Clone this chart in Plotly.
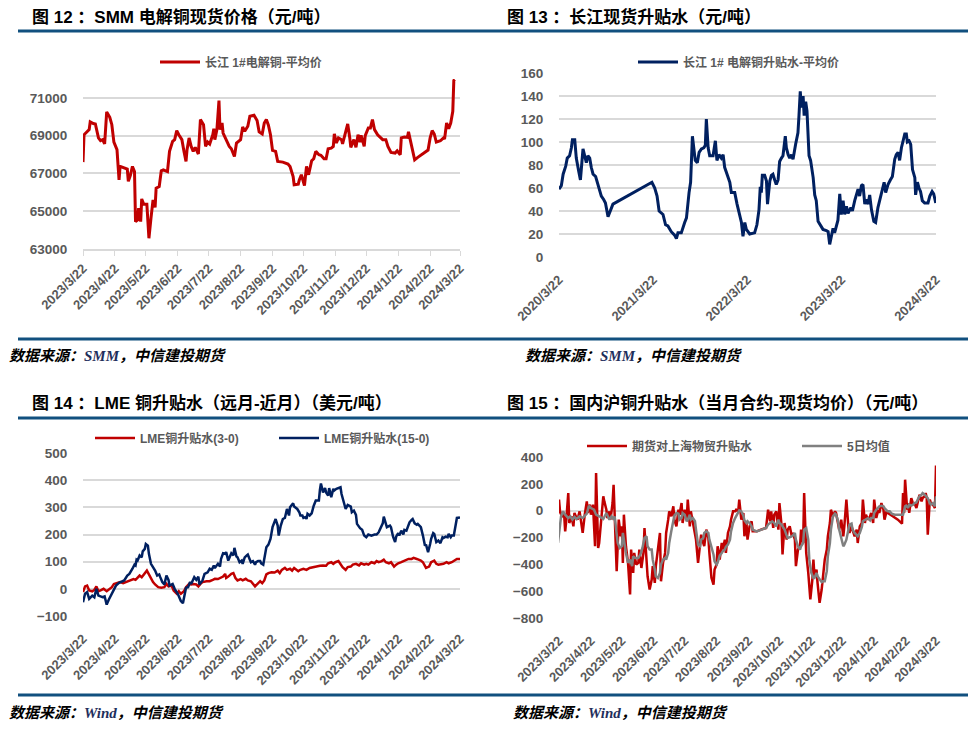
'''
Four-panel copper spread chart (SMM spot price, Changjiang premium,
LME spreads, SHFE front-month vs spot) drawn with plotly.
'''
import pandas as pd
import plotly.graph_objects as go

# the page body keeps its default 8px margin, so the figure is drawn 8px
# smaller and every layout position below is given in window pixels
PAGE_PAD = 8
W, H = 976 - PAGE_PAD, 731 - PAGE_PAD
FONT = "Liberation Sans, Noto Sans CJK SC, sans-serif"
RED = "#C00000"
NAVY = "#002060"
GREY_LINE = "#808080"
GRID = "#D9D9D9"
TICK_COLOR = "#595959"
RULE = "#11507F"

# month ticks shared by the one-year panels
MONTH_TICKS = ["2023/3/22", "2023/4/22", "2023/5/22", "2023/6/22", "2023/7/22",
               "2023/8/22", "2023/9/22", "2023/10/22", "2023/11/22",
               "2023/12/22", "2024/1/22", "2024/2/22", "2024/3/22"]
YEAR_TICKS = ["2020/3/22", "2021/3/22", "2022/3/22", "2023/3/22", "2024/3/22"]

# Fig 12: SMM spot price, days counted from 2023-03-22
smm_day = [0, 1, 6, 7, 10, 12, 15, 17, 19, 21,
           23, 26, 28, 30, 33, 35, 36, 40, 43, 44,
           46, 48, 50, 51, 53, 54, 56, 57, 59, 62,
           64, 66, 68, 70, 71, 74, 76, 78, 82, 84,
           87, 89, 91, 93, 96, 98, 100, 101, 103, 105,
           107, 109, 112, 114, 117, 119, 121, 123, 126, 127,
           128, 130, 132, 133, 135, 136, 140, 142, 144, 146,
           147, 149, 153, 155, 157, 160, 162, 166, 169, 171,
           174, 176, 178, 180, 182, 184, 187, 189, 194, 199,
           201, 204, 205, 209, 210, 212, 215, 217, 219, 222,
           224, 226, 229, 231, 234, 236, 238, 241, 243, 244,
           246, 248, 251, 252, 255, 257, 259, 260, 263, 265,
           267, 269, 270, 273, 274, 277, 279, 281, 283, 286,
           291, 294, 296, 299, 303, 305, 308, 309, 312, 315,
           316, 318, 321, 322, 325, 330, 335, 337, 339, 341,
           343, 347, 350, 351, 353, 355, 357, 359, 360, 361]
smm_price = [67600, 69050, 69320, 69730, 69640, 69620, 68880, 68740, 68790, 68560,
             70260, 69970, 69580, 68660, 68260, 66660, 67370, 67280, 67230, 66580,
             66900, 67370, 67100, 64450, 64540, 65160, 64450, 65650, 65370, 65370,
             63570, 64630, 65600, 65200, 66220, 66310, 67140, 67190, 67100, 68170,
             68700, 68790, 69270, 69050, 68790, 68170, 67640, 68260, 68880, 68430,
             68170, 68380, 68030, 69850, 69580, 68430, 68660, 68560, 69050, 69370,
             68790, 69320, 70860, 69320, 69670, 69140, 68610, 68430, 68310, 68080,
             67900, 68610, 68790, 69460, 69230, 69500, 70030, 70080, 69800, 69200,
             69090, 69670, 69850, 69550, 69050, 68220, 68170, 67640, 67600, 67500,
             67370, 66840, 66400, 66430, 66660, 66930, 66360, 67370, 66930, 67670,
             67780, 68170, 67990, 67960, 67780, 67780, 68310, 68340, 68430, 69100,
             68610, 68880, 68790, 68560, 69230, 69620, 68880, 68380, 68790, 68380,
             69050, 68660, 69020, 68430, 69000, 69410, 69410, 69850, 69320, 69050,
             68790, 68790, 68430, 68110, 68080, 68200, 67990, 68880, 68930, 68910,
             69200, 68700, 68080, 67720, 67850, 68060, 68240, 68880, 69270, 69090,
             68660, 68730, 68880, 68820, 69670, 69370, 69670, 70290, 71920, 71970]

# Fig 13: Changjiang premium, days counted from 2020-03-22
cj_day = [0, 9, 16, 26, 32, 41, 48, 52, 61, 67,
          76, 83, 93, 99, 106, 112, 119, 125, 132, 142,
          151, 164, 173, 180, 190, 196, 209, 360, 371, 380,
          388, 403, 413, 422, 435, 448, 455, 461, 474, 487,
          494, 504, 510, 517, 522, 528, 536, 543, 552, 561,
          567, 571, 578, 584, 597, 606, 612, 620, 629, 636,
          642, 651, 662, 668, 681, 690, 698, 707, 713, 720,
          726, 739, 758, 767, 775, 780, 784, 788, 797, 804,
          808, 817, 823, 829, 836, 842, 849, 855, 862, 868,
          877, 881, 888, 894, 901, 907, 917, 926, 930, 935,
          939, 946, 950, 956, 961, 965, 969, 975, 985, 991,
          997, 1004, 1013, 1023, 1036, 1043, 1049, 1056, 1062, 1068,
          1075, 1081, 1088, 1094, 1101, 1107, 1114, 1120, 1131, 1137,
          1146, 1152, 1159, 1165, 1172, 1178, 1185, 1191, 1198, 1204,
          1211, 1220, 1227, 1236, 1249, 1260, 1266, 1275, 1284, 1292,
          1301, 1307, 1314, 1320, 1327, 1333, 1340, 1346, 1350, 1357,
          1363, 1370, 1379, 1382, 1389, 1395, 1401, 1408, 1417, 1430,
          1437, 1446, 1452, 1460]
cj_premium = [59, 62, 72, 79, 86, 88, 95, 102, 102, 86,
              75, 67, 94, 88, 82, 88, 86, 78, 72, 70,
              63, 53, 50, 47, 35, 38, 46, 65, 60, 53,
              40, 37, 28, 27, 22, 19, 16, 21, 21, 30,
              34, 56, 65, 105, 95, 84, 82, 91, 94, 95,
              97, 120, 95, 88, 88, 101, 84, 89, 86, 89,
              78, 72, 65, 56, 56, 46, 37, 30, 18, 30,
              24, 20, 21, 28, 41, 61, 56, 71, 71, 66,
              46, 66, 71, 72, 67, 63, 67, 83, 86, 88,
              105, 95, 89, 86, 89, 85, 98, 108, 123, 144,
              130, 140, 123, 135, 127, 110, 88, 84, 69, 54,
              49, 31, 27, 24, 23, 22, 11, 19, 25, 21,
              28, 32, 55, 37, 49, 37, 44, 38, 43, 40,
              49, 53, 59, 53, 62, 63, 46, 50, 46, 54,
              41, 31, 30, 43, 56, 65, 56, 63, 67, 70,
              85, 89, 91, 84, 95, 100, 107, 107, 100, 101,
              98, 76, 69, 54, 65, 60, 57, 49, 47, 47,
              53, 57, 55, 47]

# Fig 14: LME spreads, days counted from 2023-03-22
lme3_day = [0, 2, 4, 6, 9, 11, 13, 15, 18, 20,
            23, 25, 28, 30, 32, 36, 39, 42, 45, 49,
            51, 53, 55, 57, 60, 62, 64, 66, 68, 70,
            73, 76, 79, 81, 83, 86, 88, 91, 93, 95,
            98, 100, 103, 105, 107, 110, 112, 114, 116, 120,
            123, 126, 128, 131, 134, 136, 138, 139, 141, 144,
            146, 148, 150, 153, 155, 158, 160, 163, 167, 169,
            172, 174, 176, 178, 180, 183, 186, 189, 191, 193,
            196, 198, 201, 203, 205, 209, 211, 214, 217, 220,
            223, 227, 230, 233, 236, 238, 241, 243, 245, 248,
            250, 252, 255, 257, 260, 262, 265, 268, 270, 273,
            275, 277, 280, 283, 285, 287, 290, 292, 294, 297,
            299, 302, 304, 306, 309, 312, 314, 316, 319, 321,
            324, 326, 328, 330, 332, 333, 336, 338, 341, 343,
            345, 348, 350, 353, 355, 358, 361, 363, 366]
lme3_spread = [-12, 9, 12, -6, -9, -4, 9, -9, -4, 0,
               -9, -4, 6, 18, 21, 25, 21, 25, 28, 36,
               33, 43, 49, 43, 55, 67, 53, 37, 25, 16,
               6, 4, 6, 18, 9, 12, -6, -18, -9, -18,
               -9, 6, 18, 16, 18, 16, 9, 18, 25, 28,
               28, 33, 37, 36, 43, 45, 55, 40, 45, 55,
               58, 40, 31, 36, 31, 37, 31, 28, 9, 18,
               28, 21, 31, 53, 58, 61, 60, 67, 58, 70,
               77, 70, 74, 67, 77, 65, 70, 74, 70, 77,
               80, 82, 85, 86, 85, 94, 98, 92, 98, 102,
               92, 80, 70, 80, 82, 89, 92, 86, 94, 89,
               92, 89, 98, 94, 102, 98, 102, 107, 98, 94,
               98, 82, 89, 94, 98, 102, 107, 110, 110, 114,
               110, 107, 104, 98, 82, 77, 82, 98, 104, 92,
               89, 92, 92, 98, 94, 98, 104, 110, 110]

lme15_day = [0, 2, 4, 6, 9, 11, 13, 15, 17, 19,
             21, 23, 25, 28, 30, 32, 35, 37, 40, 43,
             45, 48, 50, 51, 52, 53, 55, 57, 58, 60,
             61, 63, 64, 66, 68, 70, 72, 74, 75, 77,
             79, 81, 83, 84, 87, 89, 92, 94, 95, 97,
             99, 100, 102, 104, 105, 107, 108, 110, 112, 113,
             116, 118, 121, 123, 125, 127, 128, 131, 133, 134,
             136, 138, 139, 141, 142, 144, 146, 147, 149, 150,
             152, 154, 155, 157, 159, 160, 162, 163, 165, 167,
             168, 170, 172, 173, 175, 176, 178, 180, 182, 184,
             187, 189, 190, 192, 194, 196, 197, 198, 200, 201,
             204, 205, 208, 210, 211, 213, 214, 216, 217, 218,
             220, 222, 224, 226, 227, 229, 230, 231, 233, 235,
             236, 238, 239, 241, 243, 244, 246, 248, 250, 251,
             253, 255, 257, 260, 261, 263, 265, 266, 269, 271,
             273, 275, 277, 280, 283, 285, 287, 289, 291, 292,
             294, 295, 298, 299, 301, 303, 304, 306, 307, 309,
             311, 312, 314, 316, 317, 319, 320, 322, 324, 325,
             327, 328, 330, 332, 333, 335, 337, 338, 340, 341,
             343, 345, 347, 349, 350, 352, 354, 355, 357, 358,
             360, 361, 363, 366]
lme15_spread = [-49, -18, -12, -37, -25, -31, 0, -25, -28, -31,
                -28, -58, -40, -18, 0, 12, 22, 25, 31, 49,
                55, 74, 89, 86, 107, 104, 123, 116, 138, 147,
                165, 159, 129, 92, 80, 67, 49, 53, 43, 25,
                16, 49, 33, 12, 18, 0, -18, -33, -45, -53,
                -6, 4, 6, 25, 18, 37, 43, 33, 45, 16,
                31, 55, 61, 74, 70, 86, 77, 92, 82, 110,
                131, 129, 135, 104, 116, 131, 123, 151, 119, 116,
                98, 104, 92, 116, 123, 126, 107, 98, 102, 89,
                98, 102, 102, 94, 89, 116, 153, 163, 184, 227,
                257, 233, 196, 233, 257, 261, 276, 294, 270, 300,
                315, 303, 294, 282, 270, 270, 261, 264, 257, 276,
                270, 278, 306, 325, 325, 325, 364, 388, 355, 371,
                355, 343, 371, 337, 368, 362, 368, 371, 374, 349,
                319, 294, 309, 303, 282, 288, 272, 239, 223, 217,
                196, 190, 200, 196, 200, 200, 208, 227, 241, 266,
                245, 227, 233, 227, 192, 172, 192, 205, 196, 214,
                200, 217, 214, 233, 245, 254, 257, 241, 236, 239,
                229, 227, 196, 159, 163, 135, 165, 184, 205, 202,
                172, 178, 168, 190, 187, 192, 190, 202, 190, 196,
                196, 214, 261, 263]

# Fig 15: SHFE front month minus Shanghai spot, days from 2023-03-22
shfe_day = [-1, 0, 1, 3, 5, 6, 7, 9, 10, 12,
            14, 15, 17, 18, 20, 22, 23, 25, 27, 28,
            30, 31, 33, 35, 36, 38, 39, 41, 43, 44,
            46, 47, 49, 50, 52, 53, 55, 56, 58, 60,
            61, 62, 63, 65, 67, 69, 70, 72, 73, 75,
            77, 78, 80, 82, 83, 85, 86, 88, 90, 91,
            93, 94, 96, 98, 99, 101, 103, 104, 106, 107,
            109, 111, 112, 114, 116, 117, 119, 120, 122, 124,
            125, 127, 128, 130, 132, 133, 135, 137, 138, 140,
            141, 143, 145, 146, 148, 150, 151, 153, 154, 156,
            158, 159, 161, 162, 164, 166, 167, 169, 171, 172,
            174, 175, 177, 179, 180, 182, 183, 185, 187, 188,
            192, 196, 201, 203, 205, 206, 208, 209, 211, 213,
            214, 216, 217, 219, 221, 222, 224, 226, 227, 229,
            230, 232, 234, 235, 237, 238, 240, 242, 243, 244,
            246, 247, 248, 250, 251, 253, 255, 256, 258, 260,
            261, 263, 264, 266, 268, 269, 271, 272, 274, 276,
            277, 279, 281, 282, 284, 285, 287, 289, 290, 292,
            294, 295, 297, 298, 300, 302, 303, 305, 306, 308,
            310, 311, 313, 315, 316, 318, 319, 324, 329, 333,
            334, 335, 336, 338, 339, 340, 342, 344, 345, 347,
            349, 350, 352, 353, 355, 356, 357, 358, 360, 361,
            363, 365, 366]
shfe_basis = [-30, 82, -5, -42, -30, -154, -79, 131, -92, -42,
              -117, -17, -55, -67, -5, -117, -166, -30, 69, -17,
              45, -30, 45, -265, 280, -278, -241, -67, 107, 69,
              7, -55, -5, -67, 57, 193, -365, -451, -67, -191,
              -117, -389, -30, -265, -389, -625, -290, -464, -315, -402,
              -389, -290, -427, -315, -129, -340, -489, -588, -513, -414,
              -538, -414, -290, -166, -526, -389, -315, -166, -67, -5,
              -42, 32, -67, -117, 7, -30, 57, -92, 7, -67,
              82, -117, -5, -79, -166, -216, -389, -241, -179, -241,
              -265, -141, -203, -315, -501, -551, -439, -402, -265, -365,
              -241, -290, -216, -315, -166, -117, -67, -5, -5, 7,
              -5, 82, -67, -17, -191, -92, -216, -117, -79, -154,
              -154, -141, -129, 7, -79, -5, -129, -30, -5, -141,
              57, -104, -327, -92, -216, -141, -117, -191, -166, -216,
              -414, -290, -265, -141, -241, 131, -315, -464, -588, -662,
              -513, -365, -489, -439, -538, -687, -588, -513, -365, -290,
              -191, -92, 7, -42, -5, -17, -117, -141, -67, -191,
              -117, 82, -129, -166, -117, -141, -191, -141, -241, -117,
              -92, 82, -92, -30, -67, -42, -17, -92, 82, -55,
              7, -17, 57, 7, -67, -5, -17, -42, -67, -97,
              131, -17, 231, 7, 57, -17, 94, 45, 57, 20,
              82, 119, 69, 94, 107, 131, 94, -179, 82, 57,
              45, 20, 337]

ma5_day = [-1, 1, 2, 4, 6, 9, 11, 13, 15, 17,
           20, 23, 25, 27, 29, 31, 34, 36, 39, 41,
           43, 46, 49, 51, 53, 54, 56, 57, 59, 61,
           62, 64, 65, 67, 69, 71, 72, 74, 77, 79,
           81, 83, 85, 86, 88, 90, 91, 93, 94, 96,
           98, 99, 101, 103, 104, 106, 107, 109, 111, 112,
           114, 116, 117, 119, 120, 122, 124, 125, 127, 128,
           130, 132, 133, 135, 137, 138, 140, 141, 143, 145,
           146, 148, 150, 151, 153, 154, 156, 158, 159, 161,
           162, 164, 166, 167, 169, 171, 172, 174, 175, 177,
           179, 180, 182, 183, 185, 187, 188, 192, 196, 201,
           203, 205, 207, 209, 211, 213, 214, 216, 217, 219,
           221, 222, 225, 227, 229, 230, 232, 234, 235, 237,
           238, 240, 242, 243, 245, 247, 248, 250, 251, 253,
           255, 256, 258, 260, 261, 263, 264, 266, 268, 269,
           271, 272, 274, 276, 277, 279, 281, 282, 284, 285,
           287, 289, 290, 292, 294, 295, 297, 298, 300, 302,
           303, 305, 306, 308, 310, 311, 313, 315, 316, 318,
           319, 321, 323, 326, 331, 334, 336, 337, 339, 340,
           342, 344, 345, 347, 349, 350, 352, 353, 355, 357,
           358, 360, 361, 363, 365, 366]
ma5_basis = [-241, -117, -42, -5, -30, -55, -42, -67, -47, -62,
             -42, -55, -42, -22, 37, 20, 7, -30, -42, -55,
             -62, -17, -67, -42, -67, -42, -166, -241, -278, -265,
             -166, -290, -315, -389, -365, -414, -340, -352, -352, -327,
             -278, -203, -191, -265, -290, -290, -365, -439, -489, -501,
             -464, -402, -365, -352, -365, -315, -241, -154, -79, -37,
             -17, -22, -67, -55, -17, -30, -79, -67, -30, -67,
             -55, -79, -141, -253, -265, -216, -203, -166, -154, -166,
             -216, -265, -327, -377, -402, -389, -335, -315, -303, -290,
             -270, -253, -216, -154, -92, -55, -42, -17, 2, -5,
             -37, -72, -92, -79, -92, -117, -141, -154, -141, -129,
             -104, -92, -79, -92, -117, -67, -92, -104, -117, -141,
             -186, -203, -196, -186, -166, -216, -265, -290, -265, -241,
             -141, -129, -216, -365, -464, -501, -501, -464, -489, -513,
             -533, -526, -526, -451, -340, -241, -141, -42, -22, -30,
             -79, -141, -216, -265, -253, -216, -141, -104, -97, -141,
             -166, -179, -191, -166, -122, -79, -67, -62, -55, -72,
             -55, -55, -17, 7, 20, 32, 37, 32, 20, 7,
             -5, -5, -22, -30, -30, -30, 32, 37, 20, 45,
             37, 45, 57, 62, 94, 107, 119, 131, 119, 107,
             94, 57, 45, 57, 32, 107]


def px_x(x):
    return (x - PAGE_PAD) / W


def px_y(y):
    return 1 - (y - PAGE_PAD) / H


def to_dates(base, days):
    return pd.Timestamp(base) + pd.to_timedelta(days, unit="D")


def tick_dates(labels):
    return [d.strftime("%Y-%m-%d") for d in pd.to_datetime(labels)]


x_tick_font = dict(family=FONT, size=13, color=TICK_COLOR, weight="bold")
y_tick_font = dict(family=FONT, size=13.5, color=TICK_COLOR, weight="bold")
legend_font = dict(family=FONT, size=12, color=TICK_COLOR, weight="bold")

fig = go.Figure()

fig.add_trace(go.Scatter(x=to_dates("2023-03-22", smm_day), y=smm_price,
                         mode="lines", name="长江 1#电解铜-平均价",
                         line=dict(color=RED, width=3), showlegend=True,
                         xaxis="x", yaxis="y", legend="legend"))
fig.add_trace(go.Scatter(x=to_dates("2020-03-22", cj_day), y=cj_premium,
                         mode="lines", name="长江 1# 电解铜升贴水-平均价",
                         line=dict(color=NAVY, width=3), showlegend=True,
                         xaxis="x2", yaxis="y2", legend="legend2"))
fig.add_trace(go.Scatter(x=to_dates("2023-03-22", lme3_day), y=lme3_spread,
                         mode="lines", name="LME铜升贴水(3-0)",
                         line=dict(color=RED, width=2.5), showlegend=True,
                         xaxis="x3", yaxis="y3", legend="legend3"))
fig.add_trace(go.Scatter(x=to_dates("2023-03-22", lme15_day), y=lme15_spread,
                         mode="lines", name="LME铜升贴水(15-0)",
                         line=dict(color=NAVY, width=2.5), showlegend=True,
                         xaxis="x3", yaxis="y3", legend="legend4"))
fig.add_trace(go.Scatter(x=to_dates("2023-03-22", shfe_day), y=shfe_basis,
                         mode="lines", name="期货对上海物贸升贴水",
                         line=dict(color=RED, width=2.5), showlegend=True,
                         xaxis="x4", yaxis="y4", legend="legend5"))
fig.add_trace(go.Scatter(x=to_dates("2023-03-22", ma5_day), y=ma5_basis,
                         mode="lines", name="5日均值",
                         line=dict(color=GREY_LINE, width=2.5), showlegend=True,
                         xaxis="x4", yaxis="y4", legend="legend6"))


def date_axis(left, right, labels, anchor, tick_line=False):
    vals = tick_dates(labels)
    return dict(domain=[px_x(left), px_x(right)], anchor=anchor, type="date",
                range=[vals[0], vals[-1]], tickvals=vals, ticktext=labels,
                tickangle=-45, tickfont=x_tick_font, showgrid=False,
                showline=tick_line, linecolor=GRID, linewidth=1.5,
                ticks="outside", ticklen=5 if tick_line else 9,
                tickcolor=GRID if tick_line else "rgba(0,0,0,0)",
                automargin=False, fixedrange=True)


def value_axis(top, bottom, lo, hi, step, anchor, grid=True):
    return dict(domain=[px_y(bottom), px_y(top)], anchor=anchor,
                range=[lo, hi], tick0=lo, dtick=step, tickfont=y_tick_font,
                tickformat="d",
                showgrid=grid, gridcolor=GRID, gridwidth=1.5,
                zeroline=not grid, zerolinecolor=GRID, zerolinewidth=1.5,
                ticks="outside", ticklen=12, tickcolor="rgba(0,0,0,0)",
                automargin=False, fixedrange=True)


def legend_at(x, y):
    return dict(x=px_x(x), y=px_y(y), xanchor="left", yanchor="middle",
                orientation="h", font=legend_font, bgcolor="rgba(0,0,0,0)",
                borderwidth=0, itemwidth=40)


fig.update_layout(
    width=W, height=H,
    margin=dict(l=0, r=0, t=0, b=0, pad=0, autoexpand=False),
    paper_bgcolor="white", plot_bgcolor="white",
    font=dict(family=FONT), showlegend=True,
    xaxis=date_axis(83, 460, MONTH_TICKS, "y", tick_line=True),
    yaxis=value_axis(79, 249, 63000, 72000, 2000, "x"),
    xaxis2=date_axis(559, 936, YEAR_TICKS, "y2"),
    yaxis2=value_axis(73, 257, 0, 160, 20, "x2"),
    xaxis3=date_axis(83, 460, MONTH_TICKS, "y3"),
    yaxis3=value_axis(453, 616, -100, 500, 100, "x3"),
    xaxis4=date_axis(559, 936, MONTH_TICKS, "y4"),
    yaxis4=value_axis(457, 618, -800, 400, 200, "x4", grid=False),
    legend=legend_at(155, 62),
    legend2=legend_at(633, 62),
    legend3=legend_at(90, 438),
    legend4=legend_at(274, 438),
    legend5=legend_at(582, 446),
    legend6=legend_at(797, 446),
)

# panel titles and source notes
titles = [
    (30, 17, "图 12 ：SMM 电解铜现货价格（元/吨）"),
    (505, 17, "图 13 ：长江现货升贴水（元/吨）"),
    (30, 403, "图 14 ：LME 铜升贴水（远月-近月）（美元/吨）"),
    (505, 403, "图 15 ：国内沪铜升贴水（当月合约-现货均价）（元/吨）"),
]
for x, y, text in titles:
    fig.add_annotation(x=px_x(x), y=px_y(y), xref="paper", yref="paper",
                       xanchor="left", yanchor="middle", showarrow=False,
                       text=text,
                       font=dict(family=FONT, size=17, color="black",
                                 weight="bold"))

SRC = ("<i>数据来源：<span style='font-family:Liberation Serif;"
       "color:#1F2F5C'>{}</span>，中信建投期货</i>")
sources = [(7, 355, "SMM"), (523, 355, "SMM"), (7, 712, "Wind"), (511, 712, "Wind")]
for x, y, who in sources:
    fig.add_annotation(x=px_x(x), y=px_y(y), xref="paper", yref="paper",
                       xanchor="left", yanchor="middle", showarrow=False,
                       text=SRC.format(who),
                       font=dict(family=FONT, size=15, color="black",
                                 weight="bold"))

# blue rules under titles and above sources
for y in [31, 339, 418, 695]:
    for x0, x1 in [(18, 488), (488, 969)]:
        fig.add_shape(type="line", xref="paper", yref="paper",
                      x0=px_x(x0), x1=px_x(x1), y0=px_y(y), y1=px_y(y),
                      line=dict(color=RULE, width=3))

fig.write_html("out.html")
